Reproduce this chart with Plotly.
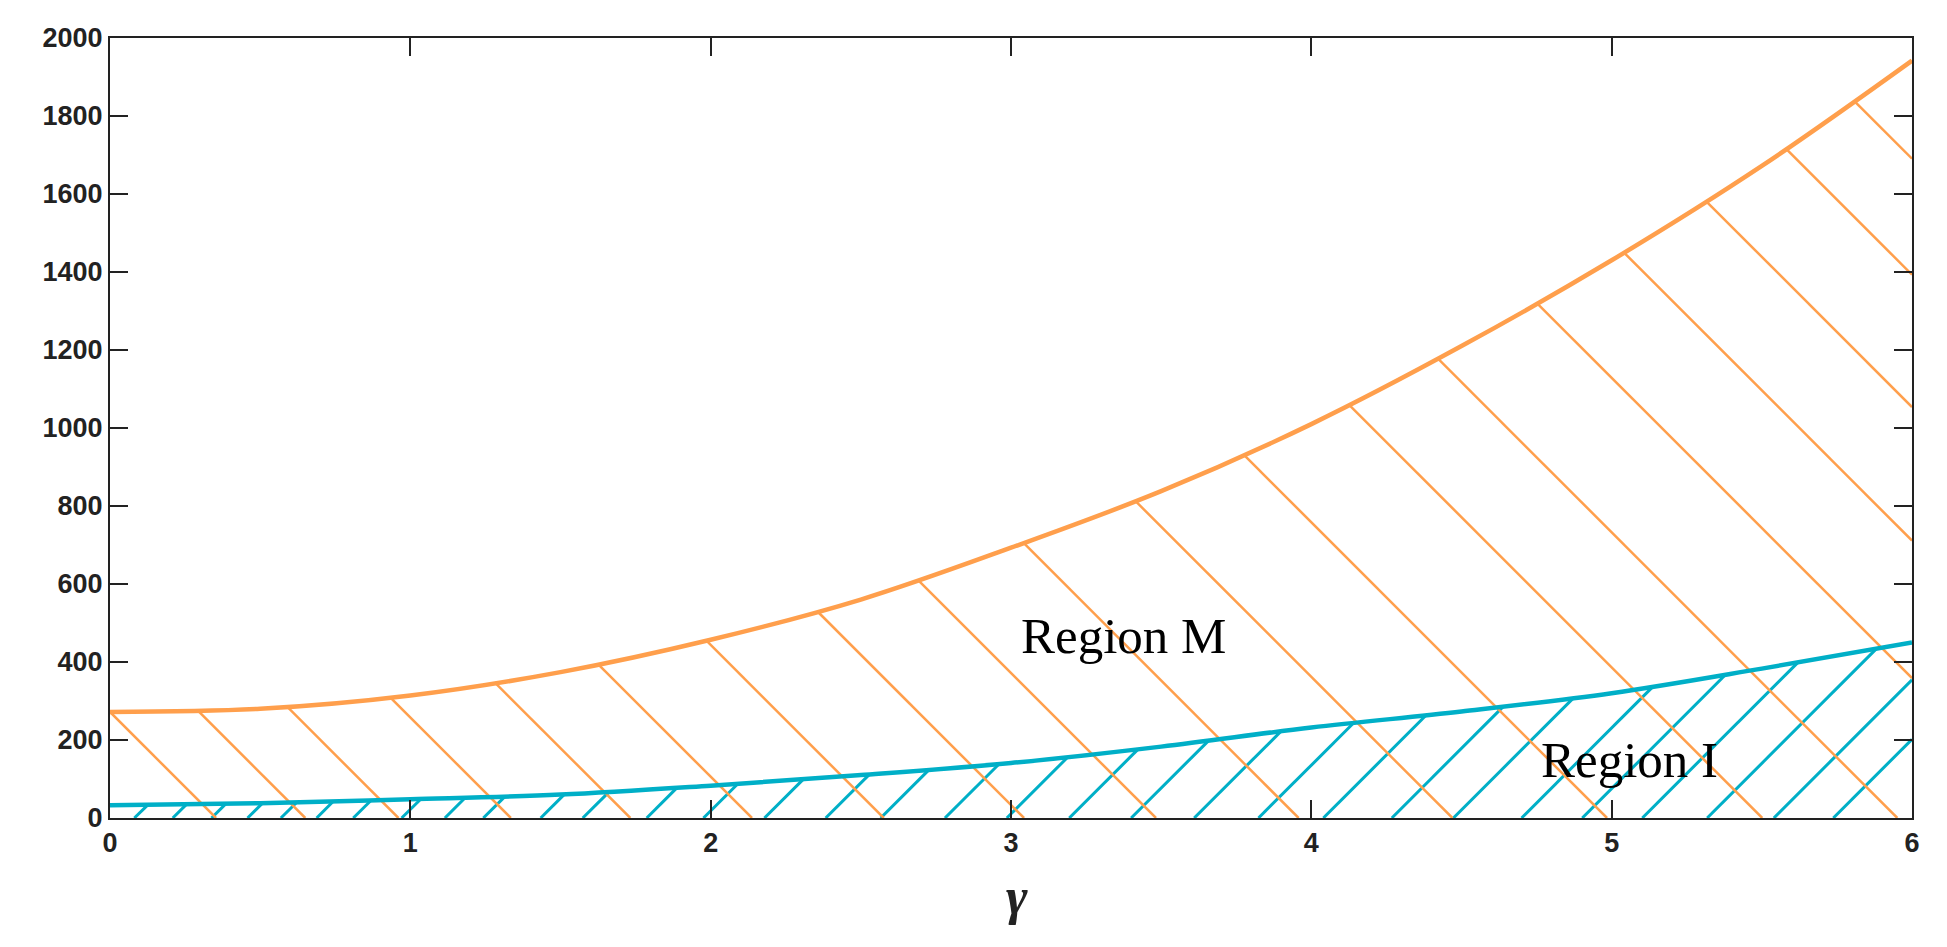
import numpy as np
import plotly.graph_objects as go

# ---- data ----
gamma = [0, 0.5, 1, 1.5, 2, 2.5, 3, 3.5, 4, 4.5, 5, 5.5, 6]
upper_M = [272, 280, 314, 374, 457, 560, 693, 838, 1010, 1210, 1430, 1672, 1942]
lower_I = [33, 38, 48, 60, 83, 110, 141, 183, 232, 273, 320, 383, 450]

x_ticks = [0, 1, 2, 3, 4, 5, 6]
y_ticks = [0, 200, 400, 600, 800, 1000, 1200, 1400, 1600, 1800, 2000]

# x positions where hatch lines meet the upper curve (orange) / the axis (cyan)
orange_hatch_x = [0, 0.291, 0.589, 0.933, 1.281, 1.625, 1.986, 2.355, 2.690, 3.042,
                  3.414, 3.774, 4.125, 4.421, 4.751, 5.041, 5.314, 5.581, 5.808]
cyan_hatch_x = [0.081, 0.209, 0.338, 0.458, 0.569, 0.688, 0.810, 0.971, 1.115, 1.243,
                1.434, 1.574, 1.787, 1.976, 2.179, 2.383, 2.566, 2.780, 2.986, 3.194,
                3.400, 3.610, 3.824, 4.040, 4.268, 4.473, 4.700, 4.902, 5.102, 5.318,
                5.540, 5.738]

labels = ["Region M", "Region I"]
label_x = [3.373, 5.06]
label_y = [467, 149]

# ---- layout geometry ----
W, H = 1947, 947
ML, MR, MT, MB = 110, 35, 38, 129
XMIN, XMAX, YMIN, YMAX = 0, 6, 0, 2000
px_x = (W - ML - MR) / (XMAX - XMIN)
px_y = (H - MT - MB) / (YMAX - YMIN)
k = px_x / px_y  # 45 degree slope in data units

ORANGE = "#FF9F4C"
CYAN = "#00AFC7"

# orange hatch: from upper curve, down-right at 45 deg
ox, oy = [], []
for x0 in orange_hatch_x:
    y0 = float(np.interp(x0, gamma, upper_M))
    x1 = x0 + y0 / k
    if x1 > XMAX:
        x1 = XMAX
        y1 = y0 - (XMAX - x0) * k
    else:
        y1 = 0
    ox += [x0, x1, None]
    oy += [y0, y1, None]

# cyan hatch: from x axis, up-right at 45 deg until lower curve
cx, cy = [], []
for x0 in cyan_hatch_x:
    xs = np.linspace(x0, XMAX, 4000)
    line = k * (xs - x0)
    curve = np.interp(xs, gamma, lower_I)
    idx = np.where(line >= curve)[0]
    if len(idx):
        x1 = xs[idx[0]]
        y1 = float(np.interp(x1, gamma, lower_I))
    else:
        x1 = XMAX
        y1 = k * (XMAX - x0)
    cx += [x0, x1, None]
    cy += [0, y1, None]

fig = go.Figure()
fig.add_trace(go.Scatter(x=cx, y=cy, mode="lines", line=dict(color=CYAN, width=3),
                         hoverinfo="skip", showlegend=False))
fig.add_trace(go.Scatter(x=ox, y=oy, mode="lines", line=dict(color=ORANGE, width=2.5),
                         hoverinfo="skip", showlegend=False))
fig.add_trace(go.Scatter(x=gamma, y=lower_I, mode="lines", line=dict(color=CYAN, width=4.5, shape="spline"),
                         showlegend=False))
fig.add_trace(go.Scatter(x=gamma, y=upper_M, mode="lines", line=dict(color=ORANGE, width=4.5, shape="spline"),
                         showlegend=False))

for t, lx, ly in zip(labels, label_x, label_y):
    fig.add_annotation(x=lx, y=ly, text=t, showarrow=False, xanchor="center", yanchor="middle",
                       font=dict(family="Liberation Serif", size=51, color="black"))

fig.add_annotation(x=3.02, y=-0.1, xref="x", yref="paper", text="<i>γ</i>", showarrow=False,
                   xanchor="center", yanchor="middle",
                   font=dict(family="Liberation Serif", size=52, color="#222222", weight="bold"))

axis_common = dict(showline=True, linecolor="#222222", linewidth=2, mirror="ticks",
                   ticks="inside", ticklen=18, tickwidth=2, tickcolor="#222222",
                   showgrid=False, zeroline=False,
                   tickfont=dict(family="Liberation Sans", size=27, color="#222222", weight="bold"))

fig.update_layout(
    width=W, height=H,
    margin=dict(l=ML, r=MR, t=MT, b=MB),
    paper_bgcolor="white", plot_bgcolor="white",
    xaxis=dict(range=[XMIN, XMAX], tickvals=x_ticks, **axis_common),
    yaxis=dict(range=[YMIN, YMAX], tickvals=y_ticks, **axis_common),
)

fig.write_html("out.html", config={"displayModeBar": False},
               post_script="document.body.style.margin='0';")
